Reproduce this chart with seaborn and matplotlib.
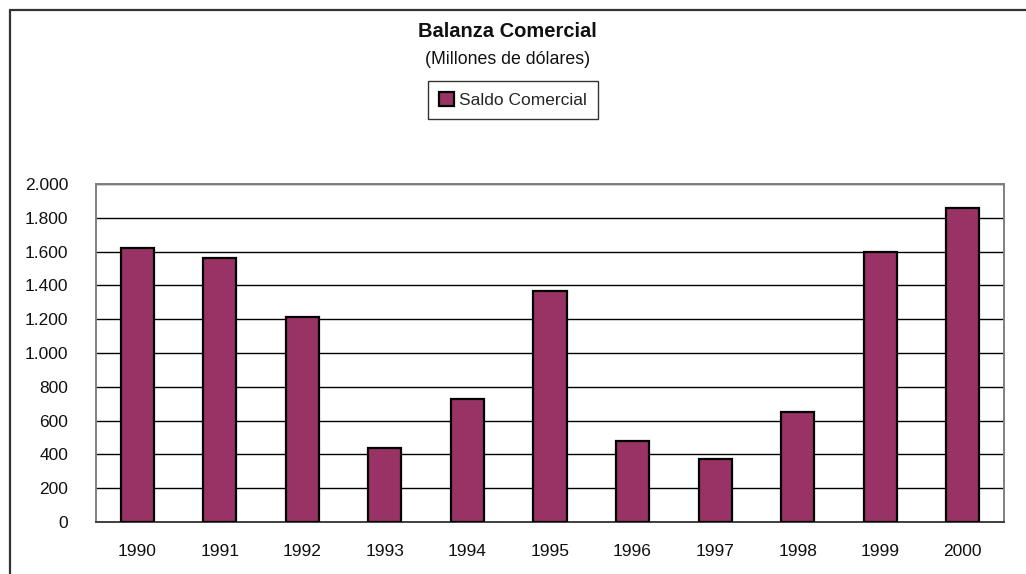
import numpy as np
import pandas as pd
import matplotlib
matplotlib.use('Agg')
import matplotlib.pyplot as plt
import seaborn as sns
from matplotlib.lines import Line2D
from matplotlib.ticker import FuncFormatter

# Datos
YEARS  = ['1990', '1991', '1992', '1993', '1994', '1995', '1996', '1997', '1998', '1999', '2000']
SALDO  = [1620, 1560, 1215, 440, 730, 1365, 480, 372, 650, 1598, 1857]
SERIES = 'Saldo Comercial'
Y_TICKS = [0, 200, 400, 600, 800, 1000, 1200, 1400, 1600, 1800, 2000]

df = pd.DataFrame({'year': YEARS, 'saldo': SALDO})

sns.set_theme(style='white')
plt.rcParams['font.family'] = ['Liberation Sans', 'DejaVu Sans']

fig = plt.figure(figsize=(10.26, 5.74), dpi=100)
ax = fig.add_axes([96/1026, 52/574, 908/1026, 338/574])

sns.barplot(data=df, x='year', y='saldo', color='#993366', saturation=1,
            edgecolor='black', linewidth=1.6, width=0.4, label=SERIES, ax=ax, zorder=3)

ax.set_ylim(0, 2000)
ax.set_yticks(Y_TICKS)
ax.yaxis.set_major_formatter(FuncFormatter(lambda v, p: f'{int(v):,}'.replace(',', '.')))
ax.yaxis.grid(True, color='black', lw=1)
ax.set_axisbelow(True)
ax.tick_params(axis='both', length=0, labelsize=12.5, colors='#111111')
ax.tick_params(axis='y', pad=20)
ax.tick_params(axis='x', pad=16)
ax.set_xlabel(''); ax.set_ylabel('')
for s in ax.spines.values():
    s.set_color('#808080'); s.set_linewidth(1.4); s.set_visible(True)
ax.spines['bottom'].set_color('#404040')

# Titulo
fig.text(0.495, 0.945, 'Balanza Comercial', ha='center', va='center',
         fontsize=14.5, fontweight='bold', color='#111111')
fig.text(0.495, 0.897, '(Millones de dólares)', ha='center', va='center',
         fontsize=12.8, color='#111111')

leg = ax.legend(loc='center', bbox_to_anchor=(513/1026, 1 - 100/574),
                bbox_transform=fig.transFigure, fontsize=12.5, frameon=True,
                fancybox=False, edgecolor='black', handlelength=0.9, handleheight=0.9,
                handletextpad=0.3, borderpad=0.6, borderaxespad=0)
leg.get_frame().set_linewidth(1.0)

# Marco exterior
fig.add_artist(Line2D([9.5/1026, 1], [1 - 10/574, 1 - 10/574], color='#333333', lw=1.6, transform=fig.transFigure))
fig.add_artist(Line2D([9.5/1026, 9.5/1026], [0, 1 - 10/574], color='#333333', lw=1.6, transform=fig.transFigure))

fig.savefig('out.png', dpi=100)
